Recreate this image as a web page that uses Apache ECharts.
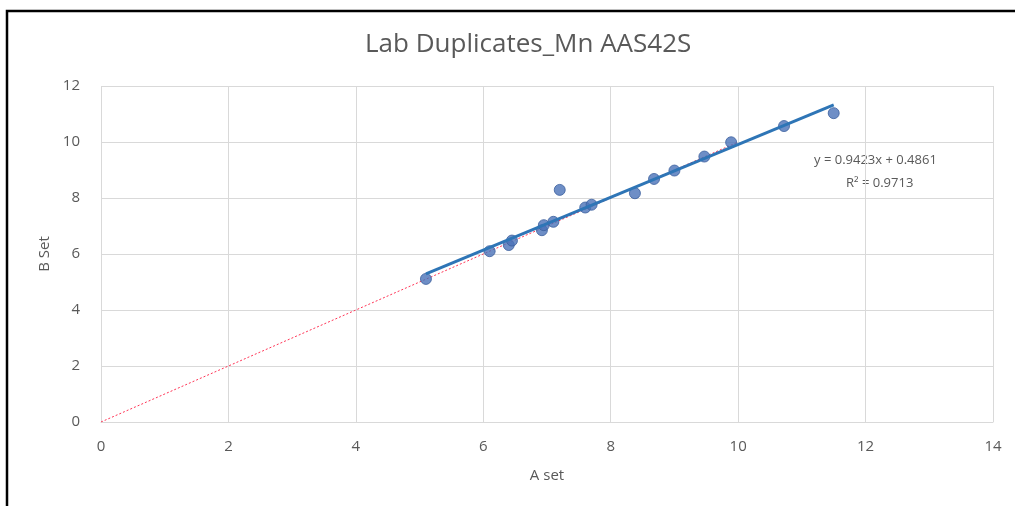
<!DOCTYPE html>
<html>
<head>
<meta charset="utf-8">
<script src="https://cdn.jsdelivr.net/npm/echarts@6/dist/echarts.min.js"></script>
<style>
html,body{margin:0;padding:0;background:#fff;}
#c{width:1015px;height:506px;}
</style>
</head>
<body>
<div id="c"></div>
<script>
const titleText = "Lab Duplicates_Mn AAS42S";
const xName = "A set";
const yName = "B Set";
const aSet = [5.1, 6.1, 6.4, 6.45, 6.92, 6.95, 7.1, 7.2, 7.6, 7.7, 8.38, 8.68, 9.0, 9.47, 9.89, 10.72, 11.5];
const bSet = [5.11, 6.1, 6.32, 6.48, 6.85, 7.03, 7.15, 8.29, 7.66, 7.76, 8.17, 8.68, 8.98, 9.48, 9.99, 10.57, 11.03];
const slope = 0.9423;
const intercept = 0.4861;
const eqText = "y = 0.9423x + 0.4861";
const r2Text = "R² = 0.9713";
const oneToOne = [[0, 0], [10, 10]];

const pts = aSet.map((a, i) => [a, bSet[i]]);
const xMin = Math.min(...aSet), xMax = Math.max(...aSet);
const trend = [[xMin, slope * xMin + intercept], [xMax, slope * xMax + intercept]];

const chart = echarts.init(document.getElementById('c'), null, {renderer: 'canvas'});
const font = '"Open Sans", Calibri, "Liberation Sans", sans-serif';
chart.setOption({
  animation: false,
  backgroundColor: '#fff',
  title: {
    text: titleText, left: 360, top: 27,
    textStyle: {fontFamily: font, fontSize: 26, fontWeight: 'normal', color: '#595959'}
  },
  grid: {left: 101, right: 22, top: 86, bottom: 84},
  xAxis: {
    type: 'value', min: 0, max: 14, interval: 2,
    name: xName, nameLocation: 'middle', nameGap: 46,
    nameTextStyle: {fontFamily: font, fontSize: 15, color: '#595959'},
    axisLine: {show: true, lineStyle: {color: '#d9d9d9', width: 1}},
    axisTick: {show: false},
    axisLabel: {fontFamily: font, fontSize: 15, color: '#595959', margin: 17},
    splitLine: {show: true, lineStyle: {color: '#d9d9d9', width: 1}}
  },
  yAxis: {
    type: 'value', min: 0, max: 12, interval: 2,
    name: yName, nameLocation: 'middle', nameGap: 44, nameRotate: 90,
    nameTextStyle: {fontFamily: font, fontSize: 15, color: '#595959'},
    axisLine: {show: false},
    axisTick: {show: false},
    axisLabel: {fontFamily: font, fontSize: 15, color: '#595959', margin: 21},
    splitLine: {show: true, lineStyle: {color: '#d9d9d9', width: 1}}
  },
  graphic: [
    {type: 'polyline', silent: true, shape: {points: [[7, 520], [7, 11], [1030, 11]]},
     style: {stroke: '#000', lineWidth: 2.5, fill: null}, z: 100},
    {type: 'text', left: 814, top: 154, silent: true,
     style: {text: eqText, fontFamily: font, fontSize: 13, fill: '#595959'}},
    {type: 'text', left: 846, top: 177, silent: true,
     style: {text: r2Text, fontFamily: font, fontSize: 13, fill: '#595959'}}
  ],
  series: [
    {
      type: 'line', data: oneToOne, symbol: 'none', z: 1,
      lineStyle: {color: '#ff3355', width: 1, type: [2, 2]}
    },
    {
      type: 'scatter', data: pts, symbol: 'circle', symbolSize: 11, z: 2,
      itemStyle: {color: '#4a72b8', borderColor: '#3b5f9e', borderWidth: 1}
    },
    {
      type: 'line', data: trend, symbol: 'none', z: 3,
      lineStyle: {color: '#2e75b6', width: 3}
    }
  ]
});
</script>
</body>
</html>
